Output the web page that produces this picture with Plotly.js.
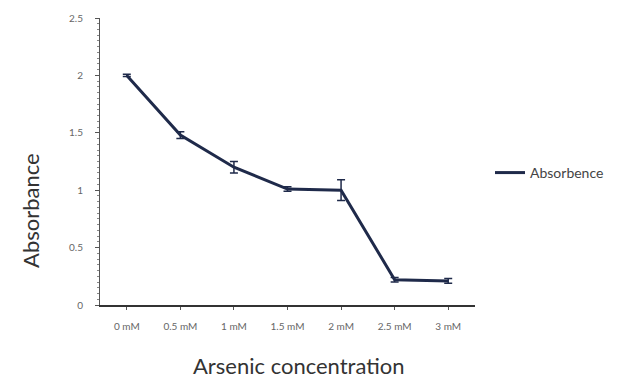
<!DOCTYPE html>
<html><head><meta charset="utf-8">
<script src="https://cdn.plot.ly/plotly-3.0.1.min.js"></script>
<style>html,body{margin:0;padding:0;background:#fff}#c{width:629px;height:385px}</style>
</head><body><div id="c"></div>
<script>
const categories = ["0 mM","0.5 mM","1 mM","1.5 mM","2 mM","2.5 mM","3 mM"];
const absorbance = [2.0, 1.48, 1.2, 1.01, 1.0, 0.22, 0.21];
const errors = [0.01, 0.03, 0.05, 0.02, 0.09, 0.02, 0.02];
const yTicks = [0, 0.5, 1, 1.5, 2, 2.5];
const yTickLabels = ["0","0.5","1","1.5","2","2.5"];

const trace = {
  x: categories, y: absorbance, type: "scatter", mode: "lines",
  name: "Absorbence",
  line: {color: "#1f2a4a", width: 3},
  error_y: {type: "data", array: errors, visible: true, color: "#1f2a4a", thickness: 1.5, width: 4}
};
const layout = {
  width: 629, height: 385,
  margin: {l: 100, r: 154, t: 18, b: 80},
  paper_bgcolor: "#fff", plot_bgcolor: "#fff",
  font: {family: "Lato, 'Open Sans', sans-serif", color: "#555"},
  showlegend: true,
  legend: {x: 1.04, y: 0.46, yanchor: "middle", xanchor: "left", font: {size: 14, color: "#444"}, bgcolor: "rgba(0,0,0,0)", itemwidth: 30},
  xaxis: {
    type: "category", range: [-0.5, 6.5],
    showline: true, linecolor: "#333", linewidth: 1.5,
    ticks: "outside", ticklen: 3, tickcolor: "#555",
    ticklabelstandoff: 8,
    tickfont: {size: 10, color: "#666"},
    showgrid: false, zeroline: false
  },
  yaxis: {
    range: [0, 2.5], tickvals: yTicks, ticktext: yTickLabels,
    showline: true, linecolor: "#555", linewidth: 1,
    ticks: "outside", ticklen: 4, tickcolor: "#555",
    ticklabelstandoff: 10,
    minor: {ticks: "outside", ticklen: 2, dtick: 0.05, tickcolor: "#888"},
    tickfont: {size: 10, color: "#666"},
    showgrid: false, zeroline: false
  },
  annotations: [
    {text: "Absorbance", xref: "paper", yref: "paper", x: -0.185, y: 0.33, xanchor: "center", yanchor: "middle",
     textangle: -90, showarrow: false, font: {size: 22, color: "#333"}},
    {text: "Arsenic concentration", xref: "paper", yref: "paper", x: 0.53, y: -0.21, xanchor: "center", yanchor: "middle",
     showarrow: false, font: {size: 22, color: "#333"}}
  ]
};
Plotly.newPlot("c", [trace], layout, {displayModeBar: false});
</script></body></html>
